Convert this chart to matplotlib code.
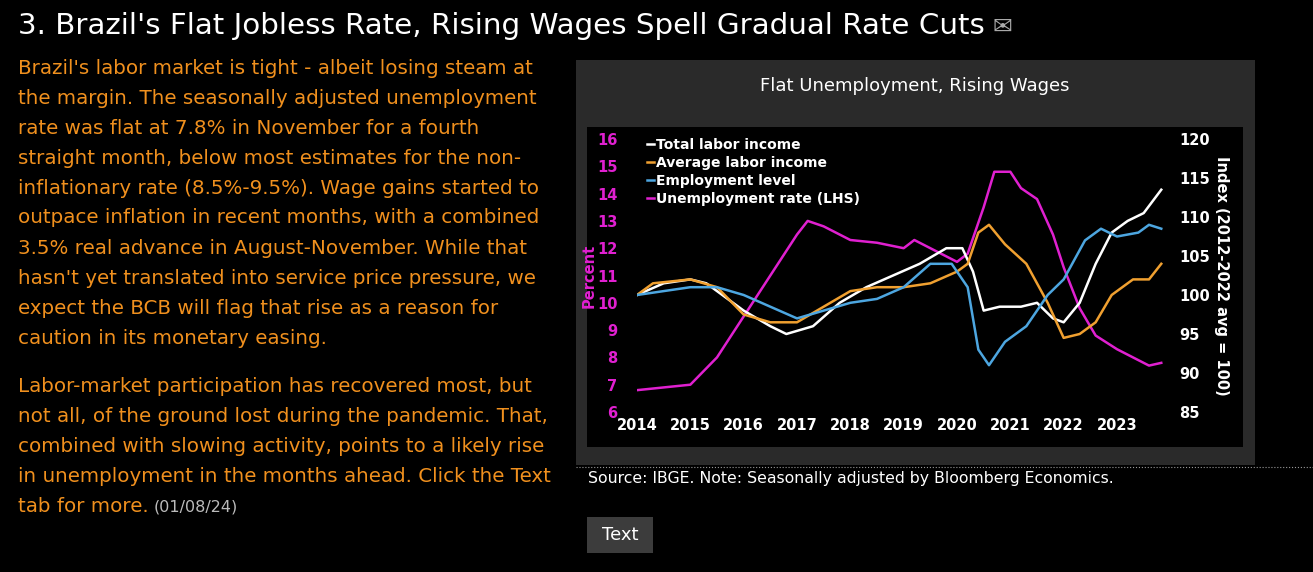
import matplotlib
matplotlib.use("Agg")
import matplotlib.pyplot as plt
from matplotlib.patches import Rectangle

W, H = 1313, 572
unemp_x = [2014.0,2014.5,2015.0,2015.5,2016.0,2016.5,2017.0,2017.2,2017.5,2018.0,2018.5,2019.0,2019.2,2019.5,2020.0,2020.2,2020.5,2020.7,2021.0,2021.2,2021.5,2021.8,2022.0,2022.3,2022.6,2023.0,2023.3,2023.6,2023.83]
unemp_y = [6.8,6.9,7.0,8.0,9.5,11.0,12.5,13.0,12.8,12.3,12.2,12.0,12.3,12.0,11.5,11.8,13.5,14.8,14.8,14.2,13.8,12.5,11.3,9.8,8.8,8.3,8.0,7.7,7.8]
total_x = [2014.0,2014.5,2015.0,2015.3,2015.6,2016.0,2016.5,2016.8,2017.3,2017.8,2018.3,2018.8,2019.3,2019.8,2020.1,2020.3,2020.5,2020.8,2021.2,2021.5,2021.8,2022.0,2022.3,2022.6,2022.9,2023.2,2023.5,2023.83]
total_y = [100,101.5,102,101.5,100,98,96,95,96,99,101,102.5,104,106,106,103,98,98.5,98.5,99,97,96.5,99,104,108,109.5,110.5,113.5]
avg_x = [2014.0,2014.3,2015.0,2015.5,2016.0,2016.5,2017.0,2017.5,2018.0,2018.5,2019.0,2019.5,2020.0,2020.2,2020.4,2020.6,2020.9,2021.3,2021.7,2022.0,2022.3,2022.6,2022.9,2023.3,2023.6,2023.83]
avg_y = [100,101.5,102,101,97.5,96.5,96.5,98.5,100.5,101,101,101.5,103,104,108,109,106.5,104,99,94.5,95,96.5,100,102,102,104]
emp_x = [2014.0,2015.0,2015.5,2016.0,2016.5,2017.0,2017.5,2018.0,2018.5,2019.0,2019.5,2019.9,2020.2,2020.4,2020.6,2020.9,2021.3,2021.7,2022.0,2022.4,2022.7,2023.0,2023.4,2023.6,2023.83]
emp_y = [100,101,101,100,98.5,97,98,99,99.5,101,104,104,101,93,91,94,96,100,102,107,108.5,107.5,108,109,108.5]
years = list(range(2014, 2024))

fig = plt.figure(figsize=(W/100, H/100), dpi=100, facecolor="black")
def fx(x): return x / W
def fy(y): return 1 - y / H

fig.text(fx(18), fy(26), "3. Brazil's Flat Jobless Rate, Rising Wages Spell Gradual Rate Cuts",
         color="white", fontsize=21.2, va="center", ha="left")
fig.text(fx(993), fy(27), "✉", color="#aaaaaa", fontsize=17, va="center")

orange = "#f0901e"
fs = 14.3
lines = ["Brazil's labor market is tight - albeit losing steam at",
         "the margin. The seasonally adjusted unemployment",
         "rate was flat at 7.8% in November for a fourth",
         "straight month, below most estimates for the non-",
         "inflationary rate (8.5%-9.5%). Wage gains started to",
         "outpace inflation in recent months, with a combined",
         "3.5% real advance in August-November. While that",
         "hasn't yet translated into service price pressure, we",
         "expect the BCB will flag that rise as a reason for",
         "caution in its monetary easing."]
for i, l in enumerate(lines):
    fig.text(fx(18), fy(68 + 30*i), l, color=orange, fontsize=fs, va="center")
lines2 = ["Labor-market participation has recovered most, but",
          "not all, of the ground lost during the pandemic. That,",
          "combined with slowing activity, points to a likely rise",
          "in unemployment in the months ahead. Click the Text"]
for i, l in enumerate(lines2):
    fig.text(fx(18), fy(387 + 30*i), l, color=orange, fontsize=fs, va="center")
fig.text(fx(18), fy(507), "tab for more.", color=orange, fontsize=fs, va="center")
fig.text(fx(154), fy(507), "(01/08/24)", color="#bbbbbb", fontsize=11.5, va="center")

# panel
fig.patches.append(Rectangle((fx(576), fy(465)), fx(679), 405/H, transform=fig.transFigure,
                             facecolor="#2a2a2a", edgecolor="none", zorder=-2))
fig.patches.append(Rectangle((fx(587), fy(447)), fx(656), 320/H, transform=fig.transFigure,
                             facecolor="black", edgecolor="none", zorder=-1))
fig.text(fx(915), fy(86), "Flat Unemployment, Rising Wages", color="white", fontsize=13, ha="center", va="center")
fig.lines.append(plt.Line2D([fx(576), fx(1313)], [fy(467), fy(467)], transform=fig.transFigure,
                            color="#999999", lw=0.8, linestyle=":"))
fig.text(fx(588), fy(479), "Source: IBGE. Note: Seasonally adjusted by Bloomberg Economics.",
         color="white", fontsize=11.3, va="center")
fig.patches.append(Rectangle((fx(587), fy(553)), fx(66), 36/H, transform=fig.transFigure,
                             facecolor="#3c3c3c", edgecolor="none", zorder=-1))
fig.text(fx(620), fy(535), "Text", color="white", fontsize=13, ha="center", va="center")

ax = fig.add_axes([fx(637), fy(412), fx(1165-637), (412-139)/H])
ax.set_facecolor("none")
ax2 = ax.twinx()
ax2.plot(total_x, total_y, color="white", lw=1.8, label="Total labor income")
ax2.plot(avg_x, avg_y, color="#f0a030", lw=1.8, label="Average labor income")
ax2.plot(emp_x, emp_y, color="#4da6e0", lw=1.8, label="Employment level")
ax.plot(unemp_x, unemp_y, color="#e020d0", lw=1.8)
ax2.plot([], [], color="#e020d0", lw=1.8, label="Unemployment rate (LHS)")
ax.set_xlim(2014, 2023.9)
ax.set_ylim(6, 16)
ax2.set_ylim(85, 120)
ax.set_yticks(range(6, 17))
ax2.set_yticks(range(85, 121, 5))
ax.set_xticks(years)
ax.set_xticklabels([str(y) for y in years], color="white", fontsize=10.5, fontweight="bold")
ax.tick_params(axis="y", colors="#e020d0", labelsize=10.5, length=0, pad=14)
ax.tick_params(axis="x", length=0, pad=4)
ax2.tick_params(axis="y", colors="white", labelsize=10.5, length=0, pad=10)
for a in (ax, ax2):
    for s in a.spines.values():
        s.set_visible(False)
for lab in ax.get_yticklabels() + ax2.get_yticklabels():
    lab.set_fontweight("bold")
ax.set_ylabel("Percent", color="#e020d0", fontsize=10.5, fontweight="bold", labelpad=0)
ax2.set_ylabel("Index (2012-2022 avg = 100)", color="white", fontsize=10.5, fontweight="bold",
               rotation=-90, labelpad=14)
leg = ax2.legend(loc="upper left", bbox_to_anchor=(0.0, 1.04), frameon=False, fontsize=10,
                 handlelength=0.5, handletextpad=0.2, labelspacing=0.3, borderaxespad=0.3)
for tx in leg.get_texts():
    tx.set_color("white"); tx.set_fontweight("bold")
fig.savefig("out.png", dpi=100, facecolor="black")
